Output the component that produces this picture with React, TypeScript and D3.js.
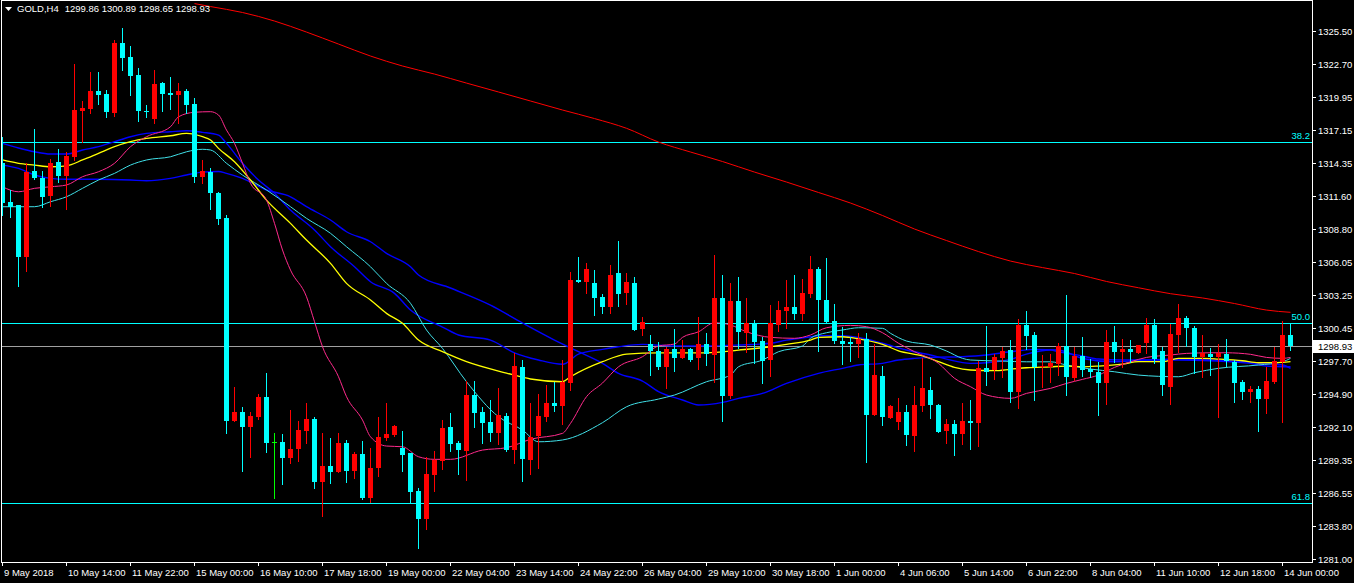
import React from 'react';
import * as d3 from 'd3';

const W = 1354;
const H = 583;

const headerSymbol = 'GOLD,H4';
const headerQuote = '1299.86 1300.89 1298.65 1298.93';
const bidPrice = 1298.93;

const priceTicks = [1325.5, 1322.7, 1319.95, 1317.15, 1314.35, 1311.6, 1308.8, 1306.05, 1303.25, 1300.45, 1297.7, 1294.9, 1292.1, 1289.35, 1286.55, 1283.8, 1281.0];

const timeLabels = ['9 May 2018', '10 May 14:00', '11 May 22:00', '15 May 00:00', '16 May 10:00', '17 May 18:00', '19 May 00:00', '22 May 04:00', '23 May 14:00', '24 May 22:00', '26 May 04:00', '29 May 10:00', '30 May 18:00', '1 Jun 00:00', '4 Jun 06:00', '5 Jun 14:00', '6 Jun 22:00', '8 Jun 04:00', '11 Jun 10:00', '12 Jun 18:00', '14 Jun 00:00'];

const fibLevels = [
  { label: '38.2', price: 1316.14 },
  { label: '50.0', price: 1300.89 },
  { label: '61.8', price: 1285.72 },
];

const opens = [1314.37, 1311.09, 1310.83, 1306.45, 1313.70, 1313.11, 1311.59, 1314.46, 1313.28, 1314.88, 1318.76, 1318.92, 1320.44, 1320.19, 1318.59, 1324.49, 1323.31, 1321.79, 1318.76, 1318.08, 1321.12, 1320.27, 1320.10, 1320.44, 1319.35, 1313.19, 1313.61, 1311.84, 1309.76, 1292.65, 1293.36, 1292.15, 1292.99, 1294.68, 1290.83, 1290.83, 1289.54, 1290.24, 1291.81, 1292.80, 1287.51, 1288.84, 1288.36, 1290.80, 1288.44, 1289.85, 1286.16, 1288.69, 1291.17, 1291.45, 1290.33, 1289.91, 1286.75, 1284.34, 1288.08, 1289.28, 1292.15, 1290.80, 1290.10, 1294.82, 1293.41, 1292.57, 1291.59, 1293.05, 1290.18, 1297.21, 1289.34, 1291.39, 1292.94, 1294.12, 1293.89, 1295.81, 1304.51, 1304.32, 1304.28, 1303.10, 1302.21, 1305.08, 1303.39, 1304.28, 1300.36, 1299.12, 1298.55, 1297.21, 1298.70, 1297.96, 1298.70, 1297.96, 1299.09, 1298.19, 1302.97, 1294.76, 1302.74, 1300.07, 1300.86, 1299.37, 1297.77, 1300.72, 1301.92, 1302.26, 1301.65, 1303.33, 1305.44, 1302.83, 1301.06, 1299.37, 1299.29, 1299.12, 1299.54, 1293.13, 1296.42, 1292.91, 1292.57, 1293.36, 1291.39, 1293.92, 1295.24, 1293.98, 1291.79, 1292.38, 1291.53, 1292.63, 1292.43, 1297.07, 1296.93, 1297.96, 1298.61, 1295.10, 1300.72, 1299.88, 1297.15, 1297.15, 1297.43, 1298.95, 1296.28, 1298.11, 1297.01, 1296.73, 1295.86, 1299.31, 1298.47, 1298.70, 1298.38, 1299.23, 1300.72, 1298.53, 1295.52, 1299.88, 1301.33, 1300.49, 1298.00, 1298.28, 1298.00, 1298.28, 1297.63, 1295.94, 1295.10, 1295.33, 1294.48, 1295.94, 1297.63, 1299.86];

const highs = [1316.56, 1312.10, 1310.85, 1314.37, 1317.24, 1313.70, 1314.71, 1315.55, 1315.30, 1322.72, 1319.60, 1322.04, 1322.04, 1320.53, 1324.74, 1325.75, 1324.23, 1322.38, 1319.26, 1322.21, 1321.20, 1321.62, 1321.12, 1320.61, 1319.85, 1314.63, 1313.95, 1311.93, 1309.99, 1295.47, 1293.78, 1293.36, 1294.90, 1296.65, 1291.59, 1291.51, 1293.56, 1292.63, 1294.12, 1292.94, 1291.64, 1291.17, 1291.64, 1291.03, 1290.04, 1290.97, 1290.38, 1292.94, 1294.12, 1292.29, 1291.81, 1289.96, 1287.01, 1289.62, 1290.10, 1292.71, 1293.33, 1290.94, 1296.00, 1296.00, 1293.83, 1294.40, 1295.43, 1293.33, 1298.33, 1297.77, 1294.17, 1294.90, 1295.66, 1295.94, 1297.77, 1305.21, 1306.48, 1305.97, 1305.35, 1303.33, 1305.78, 1307.80, 1305.08, 1304.79, 1301.37, 1299.88, 1299.31, 1298.89, 1300.38, 1299.46, 1298.76, 1301.37, 1300.02, 1306.62, 1304.93, 1304.28, 1304.79, 1303.02, 1301.14, 1299.73, 1302.40, 1302.74, 1304.51, 1304.93, 1304.60, 1306.56, 1305.63, 1306.39, 1302.49, 1300.52, 1299.68, 1300.07, 1300.07, 1299.12, 1297.26, 1293.98, 1294.59, 1293.98, 1295.58, 1297.96, 1296.31, 1294.06, 1292.77, 1292.71, 1294.12, 1294.40, 1297.69, 1300.64, 1298.28, 1298.89, 1299.46, 1301.23, 1301.90, 1300.15, 1298.19, 1298.28, 1299.18, 1303.25, 1298.89, 1299.71, 1297.85, 1297.63, 1300.30, 1300.64, 1299.54, 1299.46, 1299.03, 1301.33, 1301.23, 1298.89, 1300.80, 1302.49, 1301.48, 1300.64, 1299.88, 1298.76, 1299.12, 1299.51, 1297.77, 1296.08, 1295.60, 1295.58, 1297.21, 1298.89, 1301.06, 1300.89];

const lows = [1309.99, 1309.82, 1304.01, 1305.27, 1313.05, 1310.66, 1310.75, 1312.77, 1310.50, 1314.63, 1316.14, 1318.59, 1319.35, 1318.25, 1318.33, 1322.21, 1320.10, 1317.91, 1318.25, 1317.74, 1318.76, 1318.92, 1317.74, 1318.59, 1312.77, 1312.69, 1310.50, 1309.23, 1291.64, 1292.63, 1288.44, 1289.62, 1292.77, 1290.04, 1286.11, 1287.29, 1289.11, 1289.28, 1290.75, 1287.01, 1284.65, 1287.43, 1288.30, 1287.51, 1287.85, 1286.03, 1285.83, 1288.02, 1291.03, 1291.40, 1288.44, 1285.83, 1281.90, 1283.50, 1286.75, 1288.58, 1290.13, 1288.16, 1287.66, 1292.15, 1290.80, 1290.97, 1290.69, 1290.13, 1289.06, 1287.60, 1288.16, 1288.69, 1292.63, 1293.47, 1292.38, 1295.24, 1304.35, 1303.39, 1301.56, 1301.76, 1301.71, 1302.32, 1302.49, 1300.28, 1299.88, 1296.51, 1296.99, 1295.43, 1296.87, 1297.94, 1297.69, 1297.01, 1297.35, 1295.94, 1292.63, 1294.54, 1298.76, 1298.47, 1297.54, 1295.86, 1296.42, 1300.24, 1300.44, 1301.23, 1301.14, 1303.10, 1298.55, 1300.86, 1299.23, 1297.43, 1297.71, 1298.05, 1289.20, 1293.10, 1292.29, 1292.88, 1291.95, 1290.61, 1290.10, 1293.47, 1292.91, 1291.70, 1290.75, 1289.76, 1290.69, 1290.27, 1290.52, 1295.66, 1296.17, 1296.36, 1294.26, 1293.75, 1298.70, 1294.40, 1295.52, 1295.94, 1296.51, 1294.82, 1296.08, 1296.42, 1296.36, 1293.13, 1294.06, 1297.63, 1297.15, 1297.63, 1298.33, 1298.38, 1297.49, 1294.82, 1294.06, 1298.47, 1298.97, 1296.65, 1296.36, 1296.51, 1292.99, 1297.26, 1294.26, 1294.46, 1294.26, 1291.81, 1293.33, 1295.86, 1292.57, 1298.65];

const closes = [1311.00, 1310.66, 1306.45, 1313.61, 1313.11, 1311.51, 1314.37, 1313.28, 1314.96, 1318.84, 1319.01, 1320.44, 1320.10, 1318.67, 1324.49, 1323.22, 1321.71, 1318.76, 1318.73, 1321.03, 1320.19, 1320.10, 1320.44, 1319.26, 1313.19, 1313.70, 1311.84, 1309.65, 1292.65, 1293.36, 1292.15, 1293.05, 1294.68, 1290.80, 1290.83, 1289.48, 1290.24, 1291.87, 1292.80, 1287.51, 1288.84, 1288.36, 1290.80, 1288.44, 1289.85, 1286.16, 1288.69, 1291.31, 1291.53, 1292.21, 1289.76, 1286.67, 1284.37, 1288.16, 1289.34, 1292.06, 1290.69, 1290.18, 1294.82, 1293.28, 1292.43, 1291.59, 1293.13, 1290.18, 1297.29, 1289.40, 1291.31, 1293.05, 1294.17, 1293.89, 1295.94, 1304.51, 1304.37, 1305.44, 1302.97, 1302.21, 1304.93, 1303.33, 1304.37, 1300.30, 1301.00, 1298.55, 1297.15, 1298.70, 1297.96, 1298.70, 1297.77, 1299.09, 1298.25, 1302.97, 1294.76, 1302.74, 1300.15, 1300.86, 1299.31, 1297.71, 1300.86, 1301.98, 1302.26, 1301.65, 1303.44, 1305.44, 1302.83, 1301.00, 1299.40, 1299.12, 1299.12, 1299.54, 1293.13, 1296.51, 1292.99, 1293.89, 1293.36, 1291.45, 1293.98, 1295.43, 1293.98, 1291.73, 1292.38, 1291.53, 1292.63, 1292.43, 1297.12, 1296.78, 1298.00, 1298.53, 1295.10, 1300.72, 1299.82, 1297.21, 1297.26, 1297.49, 1298.95, 1296.36, 1298.13, 1296.93, 1296.78, 1295.86, 1299.31, 1298.47, 1298.70, 1298.47, 1299.03, 1300.72, 1297.85, 1295.66, 1299.96, 1301.33, 1300.49, 1298.00, 1298.33, 1298.00, 1298.33, 1297.69, 1295.86, 1295.10, 1295.33, 1294.48, 1296.00, 1297.69, 1299.88, 1298.93];

// moving averages: [bar index, price]
const maRed: [number, number][] = [[24, 1327.81], [26, 1327.56], [30, 1327.06], [34, 1326.34], [38, 1325.41], [42, 1324.40], [46, 1323.39], [50, 1322.55], [54, 1321.87], [58, 1321.11], [62, 1320.36], [66, 1319.60], [70, 1318.84], [74, 1318.12], [78, 1317.30], [82, 1316.14], [86, 1315.30], [90, 1314.50], [94, 1313.61], [98, 1312.77], [102, 1311.89], [106, 1311.00], [110, 1309.95], [114, 1308.81], [118, 1307.84], [122, 1306.91], [126, 1306.11], [130, 1305.56], [134, 1305.06], [138, 1304.39], [142, 1303.86], [146, 1303.36], [150, 1303.00], [154, 1302.53], [158, 1301.98], [161, 1301.79]];

const maMagenta: [number, number][] = [[0, 1312.37], [2, 1311.95], [4, 1312.24], [6, 1312.37], [8, 1312.52], [10, 1313.22], [12, 1313.64], [14, 1314.35], [16, 1315.75], [18, 1316.59], [21, 1317.43], [22, 1318.27], [24, 1318.65], [26, 1318.70], [27, 1318.42], [28, 1317.15], [29, 1316.03], [30, 1314.35], [31, 1312.66], [33, 1311.25], [34, 1309.29], [35, 1307.04], [36, 1305.35], [38, 1303.10], [39, 1301.00], [40, 1298.89], [42, 1296.36], [43, 1294.68], [45, 1292.71], [46, 1291.30], [48, 1290.52], [50, 1290.46], [52, 1289.62], [54, 1289.40], [56, 1289.40], [60, 1290.18], [63, 1290.38], [66, 1291.09], [70, 1291.59], [71, 1292.43], [73, 1294.68], [75, 1295.83], [77, 1297.20], [80, 1298.05], [82, 1298.95], [84, 1299.12], [85, 1299.68], [87, 1300.15], [89, 1300.91], [91, 1300.72], [93, 1300.15], [96, 1299.68], [99, 1299.60], [101, 1299.88], [103, 1300.49], [106, 1300.69], [108, 1300.58], [110, 1300.07], [112, 1299.18], [114, 1298.47], [117, 1297.49], [119, 1296.23], [121, 1295.52], [123, 1294.82], [126, 1294.54], [128, 1294.96], [131, 1295.38], [133, 1295.80], [135, 1296.14], [137, 1296.50], [139, 1297.15], [141, 1297.62], [143, 1297.99], [146, 1298.19], [148, 1298.33], [151, 1298.38], [153, 1298.38], [156, 1298.25], [158, 1297.99], [160, 1297.91], [161, 1297.99]];

const maYellow: [number, number][] = [[0, 1314.63], [2, 1314.35], [4, 1314.20], [6, 1314.06], [8, 1314.14], [10, 1314.63], [12, 1315.19], [14, 1315.75], [16, 1316.17], [18, 1316.45], [21, 1316.67], [23, 1316.87], [25, 1316.59], [26, 1316.31], [27, 1315.61], [29, 1314.48], [31, 1312.94], [33, 1311.25], [36, 1309.29], [38, 1307.88], [41, 1305.92], [43, 1304.23], [46, 1302.83], [48, 1301.70], [50, 1300.86], [52, 1299.45], [55, 1298.47], [58, 1297.63], [63, 1296.67], [66, 1296.17], [70, 1295.94], [71, 1296.36], [75, 1297.63], [78, 1298.27], [82, 1298.38], [88, 1298.38], [92, 1298.61], [96, 1298.89], [98, 1299.09], [101, 1299.45], [102, 1299.68], [105, 1299.73], [107, 1299.56], [110, 1299.09], [112, 1298.55], [115, 1298.11], [117, 1297.63], [119, 1297.15], [121, 1296.93], [124, 1296.87], [126, 1296.99], [128, 1297.12], [131, 1297.20], [133, 1297.26], [135, 1297.20], [137, 1297.26], [140, 1297.43], [142, 1297.63], [145, 1297.63], [147, 1297.91], [150, 1297.91], [152, 1297.85], [155, 1297.71], [157, 1297.54], [160, 1297.58], [161, 1297.63]];

const maCyan: [number, number][] = [[0, 1310.69], [4, 1310.69], [6, 1311.11], [8, 1311.53], [10, 1312.24], [12, 1312.94], [14, 1313.50], [16, 1314.20], [18, 1314.63], [21, 1314.90], [23, 1315.32], [25, 1315.53], [26, 1315.47], [28, 1314.35], [30, 1313.36], [33, 1312.10], [36, 1310.69], [38, 1309.71], [41, 1308.45], [43, 1307.32], [46, 1305.63], [48, 1304.23], [51, 1302.55], [53, 1300.30], [55, 1298.75], [58, 1295.94], [62, 1292.99], [65, 1291.87], [67, 1290.88], [70, 1291.03], [75, 1292.49], [78, 1293.83], [82, 1294.48], [84, 1294.82], [88, 1295.94], [91, 1296.50], [92, 1297.20], [95, 1297.77], [97, 1298.47], [100, 1298.95], [101, 1299.60], [103, 1300.07], [105, 1300.30], [107, 1300.49], [110, 1300.44], [111, 1300.02], [113, 1299.37], [116, 1299.03], [118, 1298.53], [120, 1297.91], [121, 1297.77], [125, 1297.68], [128, 1297.62], [131, 1297.62], [133, 1297.35], [136, 1297.01], [139, 1296.78], [142, 1296.50], [147, 1296.36], [149, 1296.70], [152, 1297.07], [157, 1297.35], [160, 1297.62], [161, 1297.91]];

const maBlueFast: [number, number][] = [[0, 1316.03], [2, 1315.64], [4, 1315.32], [6, 1315.13], [8, 1315.13], [10, 1315.47], [12, 1315.75], [14, 1316.17], [16, 1316.59], [18, 1316.87], [21, 1317.01], [23, 1317.09], [25, 1316.96], [27, 1316.73], [28, 1316.03], [30, 1314.35], [32, 1312.94], [34, 1311.82], [36, 1310.41], [39, 1308.73], [41, 1307.32], [44, 1305.63], [46, 1304.37], [49, 1303.39], [51, 1301.98], [55, 1300.55], [57, 1299.88], [61, 1299.45], [64, 1298.38], [67, 1297.77], [70, 1297.41], [72, 1298.27], [75, 1298.67], [77, 1298.89], [80, 1299.09], [84, 1298.95], [88, 1298.95], [92, 1299.03], [96, 1299.18], [98, 1299.45], [101, 1299.73], [102, 1299.82], [105, 1299.82], [107, 1299.67], [110, 1299.18], [113, 1298.61], [116, 1298.19], [118, 1297.85], [121, 1297.49], [123, 1297.54], [126, 1297.83], [128, 1298.27], [131, 1298.61], [132, 1298.47], [135, 1298.11], [137, 1297.85], [140, 1297.77], [143, 1297.77], [147, 1297.85], [151, 1297.77], [155, 1297.62], [157, 1297.49], [160, 1297.35], [161, 1297.07]];

const maBlueSlow: [number, number][] = [[0, 1314.20], [2, 1313.92], [4, 1313.36], [6, 1313.08], [8, 1313.00], [12, 1313.00], [16, 1312.94], [18, 1312.88], [21, 1313.08], [23, 1313.36], [25, 1313.61], [27, 1313.66], [28, 1313.50], [30, 1313.08], [33, 1312.10], [36, 1311.53], [38, 1310.69], [41, 1309.57], [43, 1308.58], [46, 1307.74], [48, 1306.76], [51, 1305.63], [52, 1304.93], [56, 1303.84], [61, 1302.40], [65, 1300.89], [69, 1299.45], [72, 1298.47], [75, 1297.49], [77, 1296.65], [80, 1296.00], [82, 1295.11], [85, 1294.40], [87, 1293.98], [90, 1294.20], [92, 1294.54], [95, 1294.96], [98, 1295.80], [102, 1296.65], [105, 1297.07], [107, 1297.35], [110, 1297.49], [112, 1297.77], [114, 1297.91], [116, 1297.99], [120, 1298.05], [123, 1298.19], [126, 1298.47], [129, 1298.67], [132, 1298.61], [135, 1297.90], [139, 1297.62], [143, 1297.77], [147, 1297.77], [151, 1297.71], [156, 1297.49], [158, 1297.26], [161, 1297.20]];

const COLORS = {
  bg: '#000000',
  fg: '#ffffff',
  bull: '#ff0000',
  bear: '#00ffff',
  doji: '#00ff00',
  fib: '#00ffff',
  bid: '#a0a0a0',
};

const maStyles: { data: [number, number][]; color: string; width: number }[] = [
  { data: maRed, color: '#ff0000', width: 1 },
  { data: maBlueSlow, color: '#0000ff', width: 1.4 },
  { data: maBlueFast, color: '#0000ff', width: 1.4 },
  { data: maCyan, color: '#40e0e8', width: 1 },
  { data: maYellow, color: '#ffff00', width: 1.3 },
  { data: maMagenta, color: '#ff2a8c', width: 1 },
];

const FONT = '"Liberation Sans", Arial, sans-serif';

export default function App() {
  const plotLeft = 1;
  const plotTop = 0;
  const plotRight = 1312;
  const plotBottom = 562;

  const x = d3.scaleLinear().domain([0, 161]).range([2, 1290]);
  const y = d3.scaleLinear().domain([1281.0, 1325.5]).range([559, 31]);

  const line = d3
    .line<[number, number]>()
    .x((d) => x(d[0]) + 0.5)
    .y((d) => y(d[1]))
    .curve(d3.curveMonotoneX);

  const candles = opens.map((o, i) => {
    const c = closes[i];
    const cx = Math.round(x(i));
    const color = c > o ? COLORS.bull : c < o ? COLORS.bear : COLORS.doji;
    const yTop = Math.round(y(Math.max(o, c)));
    const yBot = Math.round(y(Math.min(o, c)));
    const yH = Math.round(y(highs[i]));
    const yL = Math.round(y(lows[i]));
    return (
      <g key={i} fill={color}>
        <rect x={cx} y={yH} width={1} height={Math.max(1, yL - yH + 1)} />
        <rect x={cx - 2} y={yTop} width={5} height={Math.max(1, yBot - yTop)} />
      </g>
    );
  });

  const bidY = Math.round(y(bidPrice)) + 0.5;

  return (
    <div style={{ position: 'absolute', left: 0, top: 0, width: W, height: H, background: '#000' }}>
      <svg width={W} height={H} style={{ display: 'block' }} fontFamily={FONT}>
        <rect x={0} y={0} width={W} height={H} fill={COLORS.bg} />
        <defs>
          <clipPath id="plot">
            <rect x={plotLeft + 1} y={plotTop + 1} width={plotRight - plotLeft - 1} height={plotBottom - plotTop - 1} />
          </clipPath>
        </defs>

        <g clipPath="url(#plot)">
          {fibLevels.map((f) => {
            const yy = Math.round(y(f.price)) + 0.5;
            return <line key={f.label} x1={0} x2={plotRight} y1={yy} y2={yy} stroke={COLORS.fib} strokeWidth={1} shapeRendering="crispEdges" />;
          })}
          <line x1={0} x2={plotRight} y1={bidY} y2={bidY} stroke={COLORS.bid} strokeWidth={1} shapeRendering="crispEdges" />
          {maStyles.map((m, i) => (
            <path key={i} d={line(m.data) || ''} fill="none" stroke={m.color} strokeWidth={m.width} />
          ))}
          <g shapeRendering="crispEdges">{candles}</g>
        </g>

        {fibLevels.map((f) => (
          <text key={'t' + f.label} x={plotRight - 2} y={Math.round(y(f.price)) - 3} fill={COLORS.fib} fontSize={9.5} textAnchor="end">
            {f.label}
          </text>
        ))}

        {/* frame */}
        <rect x={plotLeft + 0.5} y={plotTop + 0.5} width={plotRight - plotLeft} height={plotBottom - plotTop} fill="none" stroke={COLORS.fg} strokeWidth={1} shapeRendering="crispEdges" />

        {/* header */}
        <polygon points="5,7 12,7 8.5,11" fill={COLORS.fg} />
        <text x={17} y={12} fill={COLORS.fg} fontSize={9.5}>
          {headerSymbol}
          <tspan dx={6}>{headerQuote}</tspan>
        </text>

        {/* price axis */}
        <g shapeRendering="crispEdges">
          {priceTicks.map((p) => {
            const yy = Math.round(y(p)) + 0.5;
            return <line key={p} x1={plotRight + 0.5} x2={plotRight + 4} y1={yy} y2={yy} stroke={COLORS.fg} />;
          })}
        </g>
        {priceTicks.map((p) => (
          <text key={'l' + p} x={1318} y={Math.round(y(p)) + 3.5} fill={COLORS.fg} fontSize={9.5}>
            {p.toFixed(2)}
          </text>
        ))}

        {/* bid label */}
        <rect x={plotRight + 1} y={bidY - 6.5} width={W - plotRight - 1} height={13} fill="#ffffff" />
        <text x={1318} y={bidY + 3.5} fill="#000000" fontSize={9.5}>
          {bidPrice.toFixed(2)}
        </text>

        {/* time axis */}
        <g shapeRendering="crispEdges">
          {timeLabels.map((t, i) => {
            const xx = Math.round(x(i * 8)) + 0.5;
            return <line key={t} x1={xx} x2={xx} y1={plotBottom + 0.5} y2={plotBottom + 4} stroke={COLORS.fg} />;
          })}
        </g>
        {timeLabels.map((t, i) => (
          <text key={'tl' + t} x={Math.round(x(i * 8)) + 2} y={576} fill={COLORS.fg} fontSize={9.5}>
            {t}
          </text>
        ))}
      </svg>
    </div>
  );
}
